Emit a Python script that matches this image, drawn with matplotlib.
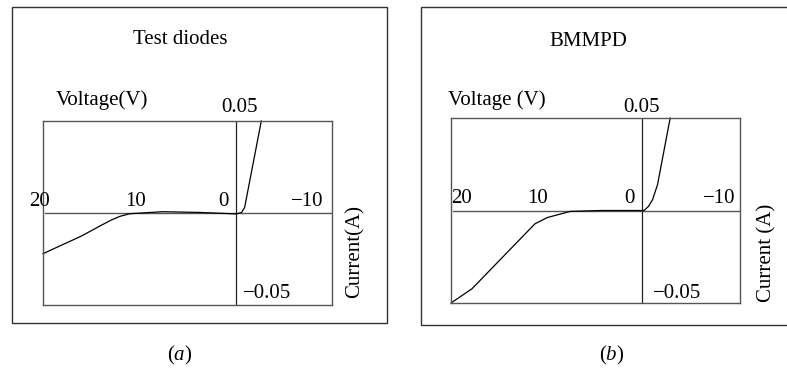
import matplotlib.pyplot as plt
from matplotlib.patches import Rectangle

plt.rcParams['font.family'] = ['Liberation Serif', 'DejaVu Serif']
plt.rcParams['mathtext.fontset'] = 'custom'
plt.rcParams['mathtext.rm'] = 'Liberation Serif'
plt.rcParams['mathtext.it'] = 'Liberation Serif:italic'

# I-V curves (voltage axis is reversed)
volt_a = [20, 16.0, 14.0, 12.9, 12.0, 11.0, 7.6, 3.7, 0, -0.6, -0.93, -2.66]
curr_a = [-0.0221, -0.0125, -0.0068, -0.0038, -0.0018, -0.0004, 0.0007, 0.0003, -0.0005, 0.0002, 0.003, 0.05]

volt_b = [20, 17.8, 11.2, 9.9, 7.5, 4.3, 0, -0.24, -0.7, -1.13, -1.65, -2.98]
curr_b = [-0.05, -0.0423, -0.0072, -0.0038, -0.0005, 0, 0, 0, 0.0022, 0.0058, 0.0139, 0.05]

v_ticks = [20, 10, 0, -10]
v_labels = ['20', '10', '0', '\u221210']
i_top, i_bot = 0.05, -0.05
i_labels = ['0.05', '\u22120.05']

W, H = 787, 372
FS = 15
fig = plt.figure(figsize=(W / 100, H / 100), dpi=100)


def fx(x):
    return x / W


def fy(y):
    return 1 - y / H


def panel(box, frame, volt, curr, title, title_xy, vlab, vlab_xy, ilab, ilab_xy,
          tick_shift, tick_y, top_x, bot_x, tag, tag_xy, xmin):
    l, t, r, b = box
    ax = fig.add_axes([fx(l), fy(b), fx(r) - fx(l), fy(t) - fy(b)])
    ax.set_xlim(20, xmin)
    ax.set_ylim(i_bot, i_top)
    ax.set_xticks([])
    ax.set_yticks([])
    for s in ax.spines.values():
        s.set_color('#555555')
        s.set_linewidth(1.0)
    ax.axhline(0, color='#555555', lw=1.0, xmin=0.006)
    ax.axvline(0, color='#222222', lw=0.9)
    ax.plot(volt, curr, color='black', lw=0.9, clip_on=False)

    for v, lab, dx in zip(v_ticks, v_labels, tick_shift):
        ax.text(v + dx, tick_y, lab, fontsize=FS, ha='center', va='center')
    fig.text(fx(top_x), fy(108), i_labels[0], fontsize=FS, ha='center', va='center')
    fig.text(fx(bot_x), fy(294), i_labels[1], fontsize=FS, ha='center', va='center')

    fl, ft, fr, fb = frame
    fig.patches.append(Rectangle((fx(fl), fy(fb)), fx(fr) - fx(fl), fy(ft) - fy(fb),
                                 transform=fig.transFigure, fill=False,
                                 edgecolor='#333333', lw=1.0))
    fig.text(fx(title_xy[0]), fy(title_xy[1]), title, fontsize=FS, ha='center', va='center')
    fig.text(fx(vlab_xy[0]), fy(vlab_xy[1]), vlab, fontsize=FS, ha='center', va='center')
    fig.text(fx(ilab_xy[0]), fy(ilab_xy[1]), ilab, fontsize=FS, ha='center', va='center',
             rotation=90)
    fig.text(fx(tag_xy[0]), fy(tag_xy[1]), tag, fontsize=FS, ha='center', va='center')
    return ax


panel((43, 121, 332, 305), (12, 7, 387, 323), volt_a, curr_a,
      'Test diodes', (180, 39), 'Voltage(V)', (102, 100), 'Current(A)', (355, 252),
      [0.4, 0.35, 1.25, 2.6], 0.0065, 239, 267, r'$\mathrm{(}\mathit{a}\mathrm{)}$', (180, 355),
      -10)

panel((451, 118, 740, 303), (421, 7, 800, 325), volt_b, curr_b,
      'BMMPD', (588, 42), 'Voltage (V)', (497, 100), 'Current (A)', (767, 253),
      [-1.1, 0.95, 1.25, 1.9], 0.0065, 641, 677, r'$\mathrm{(}\mathit{b}\mathrm{)}$', (612, 355),
      -10.3)

fig.savefig('out.png', dpi=100)
